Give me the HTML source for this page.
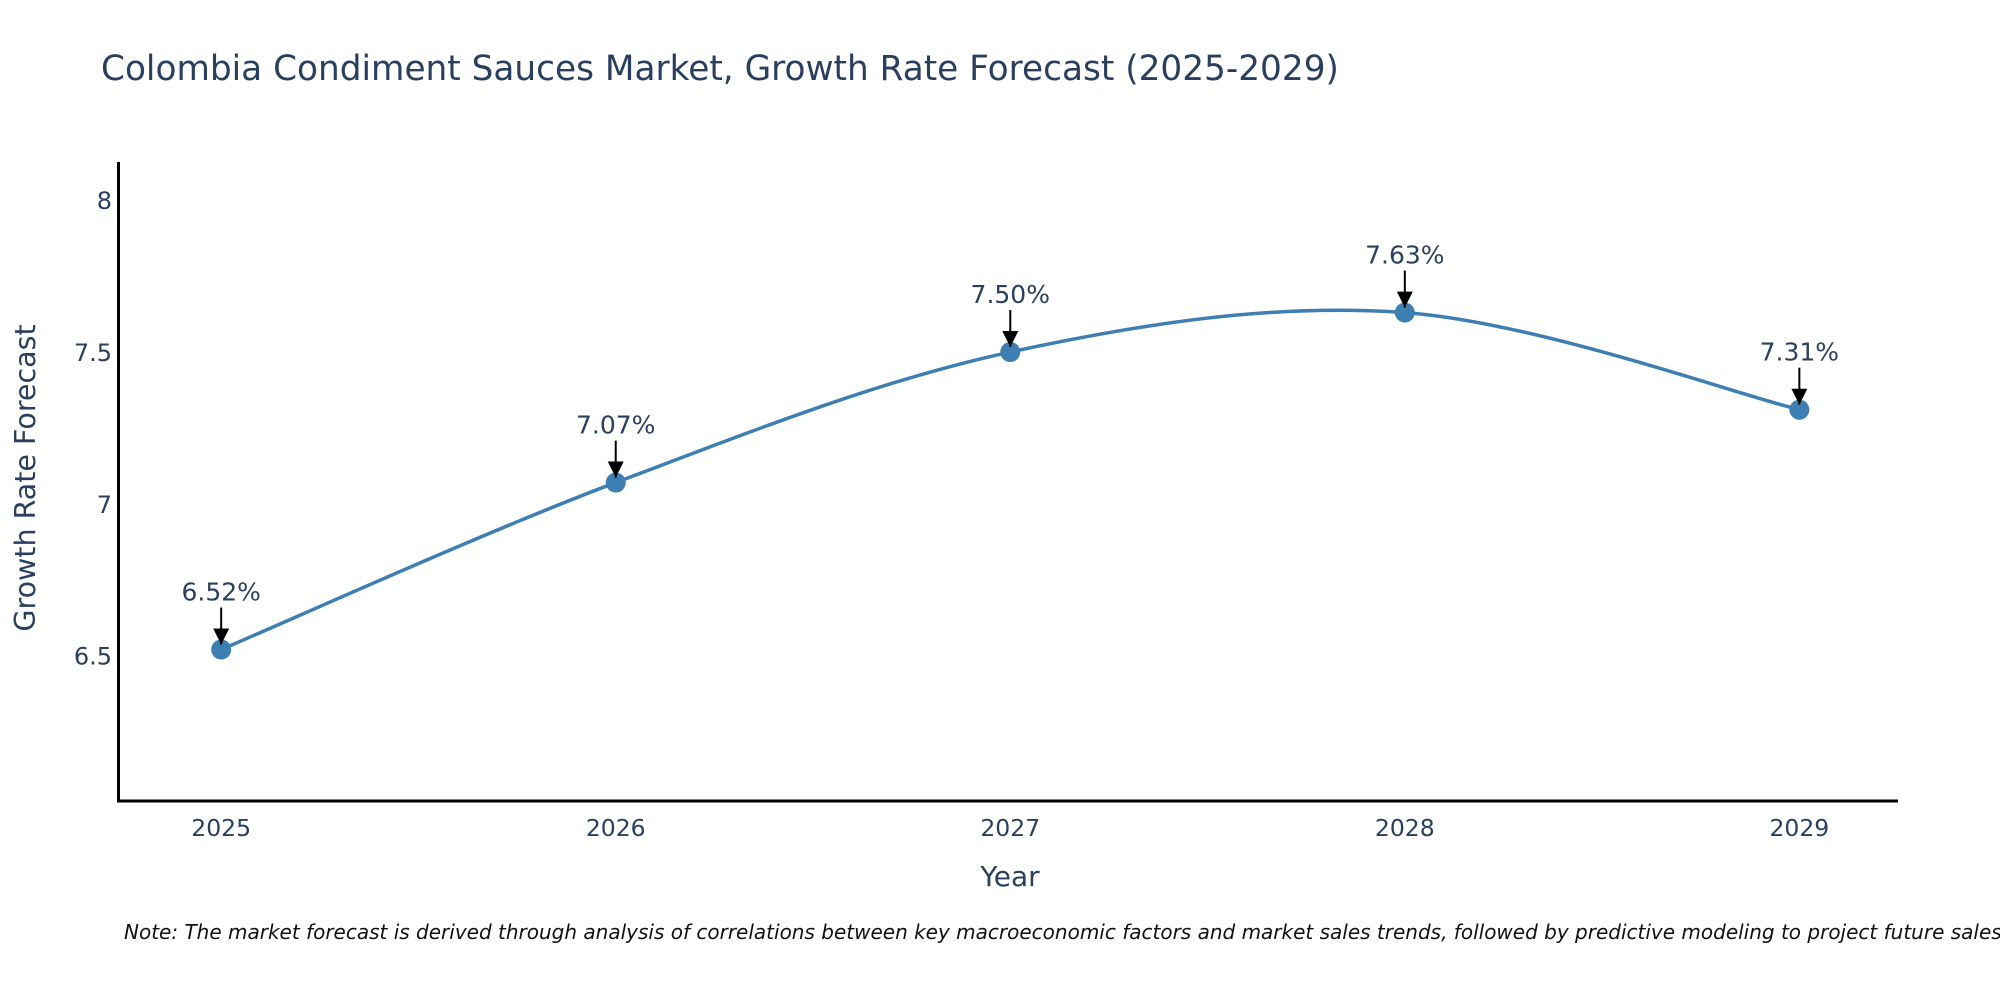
<!DOCTYPE html>
<html><head><meta charset="utf-8"><style>
html,body{margin:0;padding:0;background:#fff;}
svg{display:block;font-family:"DejaVu Sans","Liberation Sans",sans-serif;}
</style></head><body>
<svg id="chart" width="2000" height="1000" viewBox="0 0 2000 1000">
<text x="101" y="80" font-size="34.3" fill="#2a3f5f">Colombia Condiment Sauces Market, Growth Rate Forecast (2025-2029)</text>
<g id="yticks"></g>
<g id="xticks"></g>
<line x1="118.5" y1="162" x2="118.5" y2="801" stroke="#000" stroke-width="3"/>
<line x1="117" y1="801" x2="1898" y2="801" stroke="#000" stroke-width="3"/>
<path id="series-line" fill="none" stroke="#3d7eb3" stroke-width="3.5"/>
<g id="marks"></g>
<g id="annots"></g>
<text x="1010" y="886" font-size="28" fill="#2a3f5f" text-anchor="middle">Year</text>
<text transform="translate(35,478) rotate(-90)" font-size="28.5" fill="#2a3f5f" text-anchor="middle">Growth Rate Forecast</text>
<text x="124" y="939" font-size="20" font-style="italic" fill="#111">Note: The market forecast is derived through analysis of correlations between key macroeconomic factors and market sales trends, followed by predictive modeling to project future sales.</text>
<defs><marker id="ah" viewBox="0 0 10 10" refX="10" refY="5" markerWidth="8" markerHeight="8" orient="auto"><path d="M0,0 L10,5 L0,10 z" fill="#000"/></marker></defs>
</svg>
<script>
const years = [2025, 2026, 2027, 2028, 2029];
const values = [6.52, 7.07, 7.50, 7.63, 7.31];
const labels = ["6.52%", "7.07%", "7.50%", "7.63%", "7.31%"];
const yTickValues = [6.5, 7, 7.5, 8];
const yTickLabels = ["6.5", "7", "7.5", "8"];

const NS = "http://www.w3.org/2000/svg";
const X0 = 118.6, X1 = 1898, Y0 = 801, Y1 = 162;
const xMin = 2024.74, xMax = 2029.25, yMin = 6.021, yMax = 8.126;
const xs = v => X0 + (v - xMin) / (xMax - xMin) * (X1 - X0);
const ys = v => Y0 - (v - yMin) / (yMax - yMin) * (Y0 - Y1);
function mk(tag, attrs, parent) {
  const e = document.createElementNS(NS, tag);
  for (const k in attrs) e.setAttribute(k, attrs[k]);
  parent.appendChild(e); return e;
}
const yg = document.getElementById('yticks');
yTickValues.forEach((v, i) => {
  const t = mk('text', {x: 112, y: ys(v) + 9, 'font-size': 24, fill: '#2a3f5f', 'text-anchor': 'end'}, yg);
  
  
  t.textContent = yTickLabels[i];
});
const xg = document.getElementById('xticks');
years.forEach(y => {
  const t = mk('text', {x: xs(y), y: 836, 'font-size': 23.5, fill: '#2a3f5f', 'text-anchor': 'middle'}, xg);
  
  
  t.textContent = String(y);
});
const pts = years.map((y, i) => [xs(y), ys(values[i])]);
let d = `M${pts[0][0]},${pts[0][1]}`;
for (let i = 0; i < pts.length - 1; i++) {
  const p0 = pts[Math.max(0, i - 1)], p1 = pts[i], p2 = pts[i + 1], p3 = pts[Math.min(pts.length - 1, i + 2)];
  const c1 = [p1[0] + (p2[0] - p0[0]) / 6, p1[1] + (p2[1] - p0[1]) / 6];
  const c2 = [p2[0] - (p3[0] - p1[0]) / 6, p2[1] - (p3[1] - p1[1]) / 6];
  d += ` C${c1[0]},${c1[1]} ${c2[0]},${c2[1]} ${p2[0]},${p2[1]}`;
}
document.getElementById('series-line').setAttribute('d', d);
const mg = document.getElementById('marks'), ag = document.getElementById('annots');
pts.forEach((p, i) => {
  const c = mk('circle', {cx: p[0], cy: p[1], r: 10, fill: '#3d7eb3'}, mg);
  
  
  const l = mk('line', {x1: p[0], y1: p[1] - 42, x2: p[0], y2: p[1] - 5, stroke: '#000', 'stroke-width': 2, 'marker-end': 'url(#ah)'}, ag);
  
  
  const t = mk('text', {x: p[0], y: p[1] - 49, 'font-size': 25, fill: '#2a3f5f', 'text-anchor': 'middle'}, ag);
  
  
  t.textContent = labels[i];
});
</script>
</body></html>
